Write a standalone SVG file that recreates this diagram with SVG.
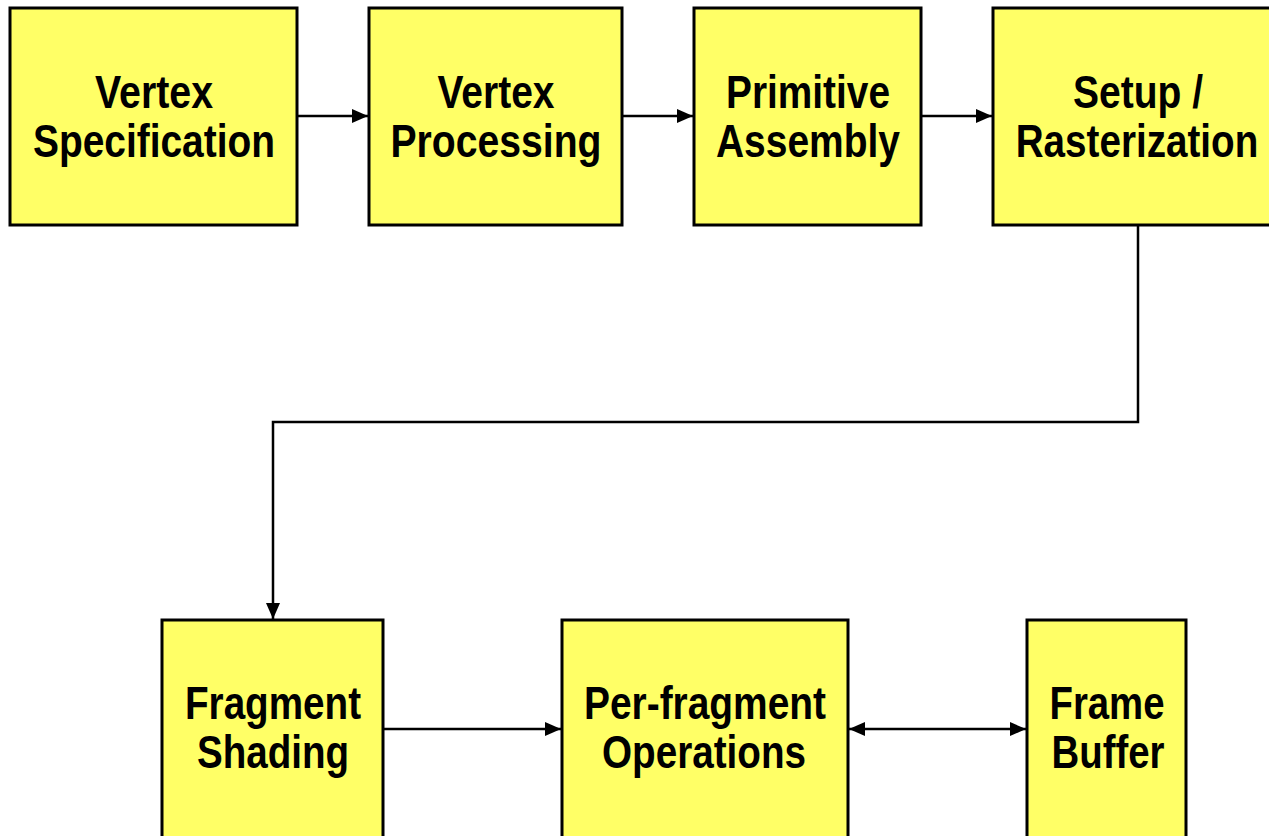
<svg xmlns="http://www.w3.org/2000/svg" width="1269" height="836" viewBox="0 0 1269 836">
  <style>
    .box { fill: #ffff66; stroke: #000; stroke-width: 3; }
    .lbl { font-family: "Liberation Sans Narrow", "Liberation Sans", Arial, sans-serif; font-weight: bold; font-size: 46px; fill: #000; text-anchor: middle; }
    .wire { fill: none; stroke: #000; stroke-width: 2.5; }
  </style>
  <defs>
    <marker id="head" viewBox="0 0 16 14" refX="16" refY="7" markerWidth="16" markerHeight="14" markerUnits="userSpaceOnUse" orient="auto-start-reverse">
      <path d="M0,0 L16,7 L0,14 Z" fill="#000"/>
    </marker>
  </defs>
  <rect width="1269" height="836" fill="#fff"/>

  <!-- pipeline stages, top row -->
  <g id="vertex-specification">
    <rect class="box" x="10" y="8" width="287" height="217"/>
    <text class="lbl" x="154" y="108" textLength="118" lengthAdjust="spacingAndGlyphs">Vertex</text>
    <text class="lbl" x="154" y="157" textLength="242" lengthAdjust="spacingAndGlyphs">Specification</text>
  </g>
  <g id="vertex-processing">
    <rect class="box" x="369" y="8" width="253" height="217"/>
    <text class="lbl" x="496" y="108" textLength="117" lengthAdjust="spacingAndGlyphs">Vertex</text>
    <text class="lbl" x="496" y="157" textLength="211" lengthAdjust="spacingAndGlyphs">Processing</text>
  </g>
  <g id="primitive-assembly">
    <rect class="box" x="694" y="8" width="227" height="217"/>
    <text class="lbl" x="808" y="108" textLength="164" lengthAdjust="spacingAndGlyphs">Primitive</text>
    <text class="lbl" x="808" y="157" textLength="184" lengthAdjust="spacingAndGlyphs">Assembly</text>
  </g>
  <g id="setup-rasterization">
    <rect class="box" x="993" y="8" width="290" height="217"/>
    <text class="lbl" x="1138" y="108" textLength="130" lengthAdjust="spacingAndGlyphs">Setup /</text>
    <!-- condensed horizontally so the long word stays inside the canvas -->
    <text class="lbl" transform="translate(1137,157) scale(0.84,1)">Rasterization</text>
  </g>

  <!-- pipeline stages, bottom row -->
  <g id="fragment-shading">
    <rect class="box" x="162" y="620" width="221" height="230"/>
    <text class="lbl" x="273" y="719" textLength="176" lengthAdjust="spacingAndGlyphs">Fragment</text>
    <text class="lbl" x="273" y="768" textLength="152" lengthAdjust="spacingAndGlyphs">Shading</text>
  </g>
  <g id="per-fragment-operations">
    <rect class="box" x="562" y="620" width="286" height="230"/>
    <text class="lbl" x="705" y="719" textLength="242" lengthAdjust="spacingAndGlyphs">Per-fragment</text>
    <text class="lbl" x="704" y="768" textLength="204" lengthAdjust="spacingAndGlyphs">Operations</text>
  </g>
  <g id="frame-buffer">
    <rect class="box" x="1027" y="620" width="159" height="230"/>
    <text class="lbl" x="1107" y="719" textLength="115" lengthAdjust="spacingAndGlyphs">Frame</text>
    <text class="lbl" x="1108" y="768" textLength="113" lengthAdjust="spacingAndGlyphs">Buffer</text>
  </g>

  <!-- data flow between stages -->
  <g id="connectors">
    <path class="wire" d="M297,116 H368" marker-end="url(#head)"/>
    <path class="wire" d="M622,116 H693" marker-end="url(#head)"/>
    <path class="wire" d="M921,116 H992" marker-end="url(#head)"/>
    <path class="wire" d="M1138,225 V422 H273 V619" marker-end="url(#head)"/>
    <path class="wire" d="M383,729 H561" marker-end="url(#head)"/>
    <path class="wire" d="M849,729 H1026" marker-start="url(#head)" marker-end="url(#head)"/>
  </g>
</svg>
